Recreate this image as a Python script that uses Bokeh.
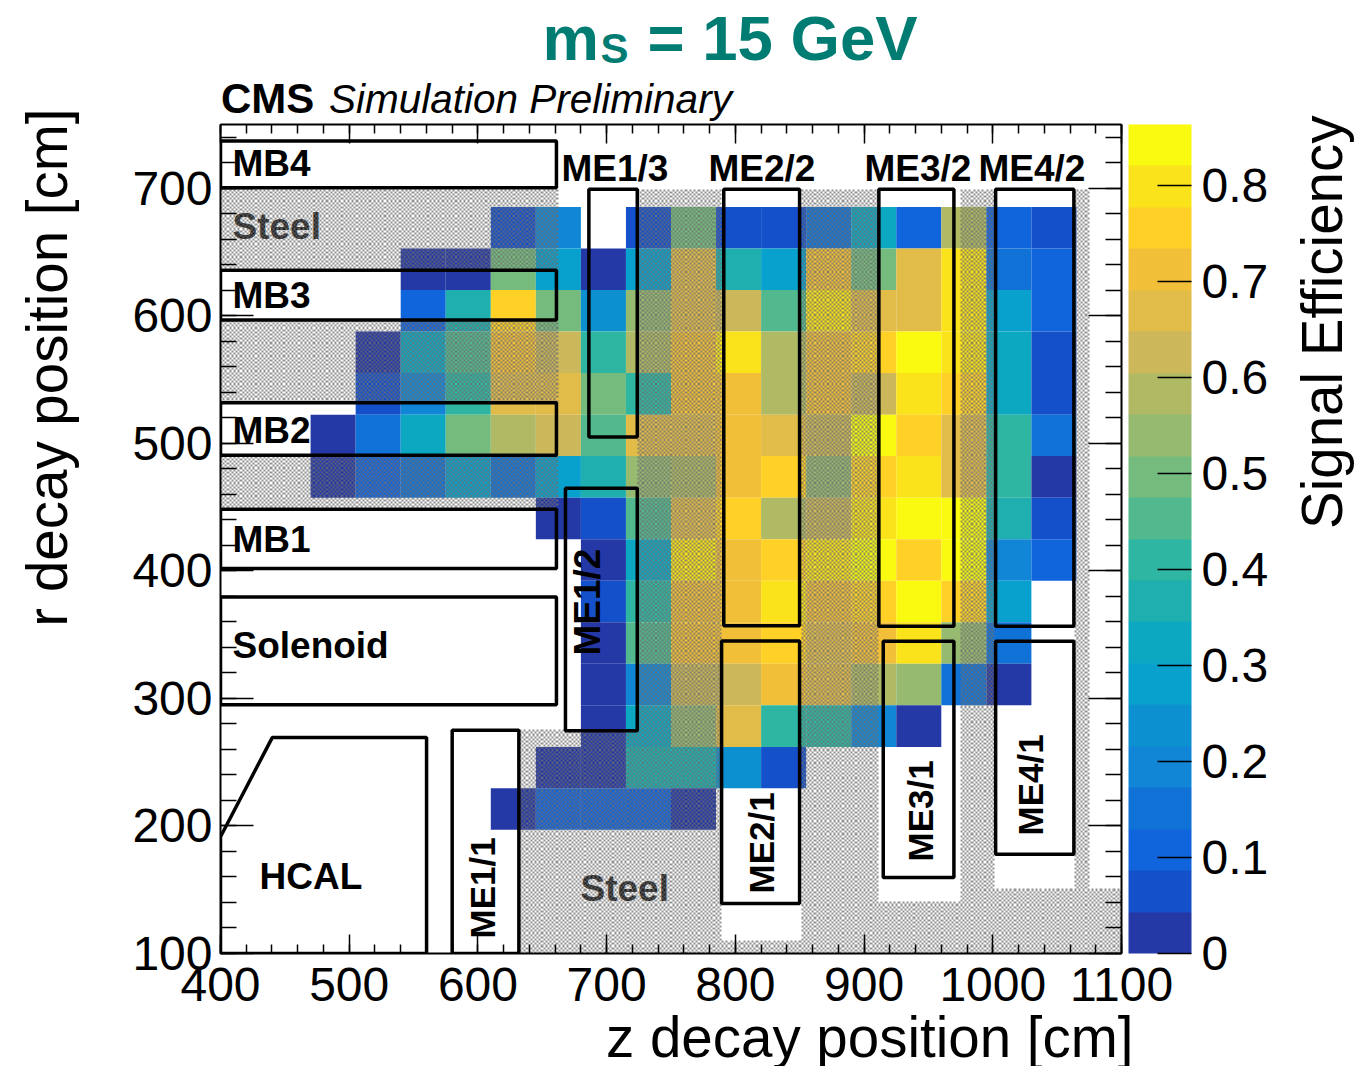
import numpy as np
from bokeh.plotting import figure
from bokeh.core.properties import value
from bokeh.layouts import column, row
from bokeh.models import (ColorBar, FixedTicker, Label, LinearAxis, Title,
                          LinearColorMapper, Range1d, ColumnDataSource)
from bokeh.embed import file_html
from bokeh.resources import INLINE

# ---------- data ----------
palette = ["#2539a6", "#1550cb", "#1064dc", "#1072d6", "#1186d6", "#0d90cf", "#08a0cc", "#0ca8c2",
           "#1eafae", "#2eb6a2", "#52b98f", "#75bb7e", "#96ba70", "#b0b964", "#ccb85a", "#e1bc48",
           "#f2c038", "#ffd127", "#fae31b", "#f9fa10"]
z_edges = [470, 505, 540, 575, 610, 645, 680, 715, 750, 785, 820, 855, 890, 925, 960, 995, 1030, 1065]
r_edges = [685.3, 652.7, 620.2, 587.6, 555.1, 522.5, 490.0, 457.4, 424.9, 392.3, 359.8, 327.2, 294.6, 262.0, 229.5, 197.0]
X = None
# efficiency per cell, top row first (read as palette band centres)
band_grid = [
    [X, X, X, X, 1, 4, X, 1, 11, 1, 1, 3, 7, 2, 13, 2, 1],
    [X, X, 0, 0, 11, 6, 0, 6, 15, 8, 6, 16, 11, 15, 18, 3, 2],
    [X, X, 2, 8, 17, 11, 5, 12, 15, 14, 10, 18, 15, 15, 18, 6, 2],
    [X, 0, 7, 10, 16, 14, 9, 13, 16, 18, 13, 16, 17, 19, 18, 7, 1],
    [X, 1, 4, 9, 15, 15, 11, 9, 16, 16, 13, 16, 14, 18, 17, 7, 1],
    [0, 3, 7, 11, 13, 14, 10, 15, 15, 16, 15, 14, 19, 17, 15, 9, 3],
    [0, 2, 3, 6, 3, 6, 8, 12, 13, 16, 17, 12, 17, 18, 15, 9, 0],
    [X, X, X, X, X, 0, 1, 10, 15, 17, 13, 14, 18, 19, 19, 8, 1],
    [X, X, X, X, X, X, 0, 7, 18, 16, 17, 18, 19, 17, 19, 4, 2],
    [X, X, X, X, X, X, 1, 9, 16, 16, 18, 16, 17, 19, 17, 6, X],
    [X, X, X, X, X, X, 0, 10, 16, 16, 17, 15, 16, 18, 12, 3, X],
    [X, X, X, X, X, X, 0, 4, 14, 14, 16, 15, 13, 12, 3, 0, X],
    [X, X, X, X, X, X, 0, 7, 12, 15, 9, 9, 4, 0, X, X, X],
    [X, X, X, X, X, 0, 0, 8, 8, 5, 1, X, X, X, X, X, X],
    [X, X, X, X, 0, 2, 2, 2, 0, X, X, X, X, X, X, X, X],
]
z_ticks = [400, 500, 600, 700, 800, 900, 1000, 1100]
r_ticks = [100, 200, 300, 400, 500, 600, 700]
eff_ticks = [0, 0.1, 0.2, 0.3, 0.4, 0.5, 0.6, 0.7, 0.8]
eff_max = 0.864
# steel regions: z0, z1, r0, r1
steel_z0 = [400, 400, 400, 724, 632.3, 790, 850.7, 911.3, 975, 1001.4, 1062.8, 1062.8]
steel_z1 = [661.8, 661.8, 661.8, 790, 790, 850.7, 911.3, 975, 1001.4, 1062.8, 1074.4, 1100]
steel_r0 = [636.7, 531.7, 449.1, 275.4, 100, 100, 100, 100, 100, 100, 150, 100]
steel_r1 = [699.4, 596.8, 490.5, 699.4, 275.4, 110, 699.4, 139.7, 699.4, 150, 699.4, 150]
# detector boxes: z0, z1, r0, r1
box_z0 = [400, 400, 400, 400, 400, 580, 668, 686.2, 791, 789.3, 911.5, 914.9, 1002.2, 1002.2]
box_z1 = [661, 661, 661, 661, 661, 631.8, 723.8, 723.8, 849.9, 849.9, 969.8, 969.8, 1063, 1063]
box_r0 = [700.4, 596.8, 490.7, 401.8, 295, 100, 274.6, 505, 356.9, 139.2, 356.6, 159.6, 356.6, 177.9]
box_r1 = [737.1, 635.7, 531.9, 448.4, 379.6, 275.1, 464.8, 699.2, 699.2, 345.1, 699.2, 344.9, 699.2, 344.9]
hcal_z = [400, 440.2, 560.1, 560.1, 400]
hcal_r = [191.5, 269.3, 269.3, 100, 100]

FONT = "Liberation Sans"
TEAL = "#007c73"
W, H = 1357, 1064          # whole page
STRIP_TOP = 122            # text strip above the main figure
STRIP_RIGHT = 72           # text strip right of the main figure
STRIP_LEFT = 85            # text strip left of the main figure
FW, FH = 901, 829
FRAME_LEFT = 220
FRAME_TOP = 124
FRAME_BOTTOM = FRAME_TOP + FH
BL = FRAME_LEFT - STRIP_LEFT
BT = FRAME_TOP - STRIP_TOP
PW, PH = W - STRIP_RIGHT - STRIP_LEFT, H - STRIP_TOP

def pz(px):  # reference page x -> data z
    return 400 + (px - FRAME_LEFT) / (FW / 700)

def pr(py):  # reference page y -> data r
    return 100 + (FRAME_BOTTOM - py) / (FH / 650)

p = figure(width=PW, height=PH, frame_width=FW, frame_height=FH, output_backend="svg", toolbar_location=None,
           x_range=Range1d(400, 1100), y_range=Range1d(100, 750), x_axis_type=None, y_axis_type=None,
           min_border_left=BL, min_border_top=BT, min_border_bottom=PH - BT - FH, min_border_right=PW - BL - FW,
           outline_line_color=None, background_fill_color="white")
p.grid.visible = False

def mk_axis(labels, major, minor_step, rng, major_in, minor_in, standoff=8):
    minors = [rng[0] + i * minor_step for i in range(int((rng[1] - rng[0]) / minor_step) + 1)]
    a = LinearAxis(ticker=FixedTicker(ticks=major, minor_ticks=minors))
    a.axis_line_color = "black"
    a.axis_line_width = 2
    a.major_tick_line_color = "black"
    a.minor_tick_line_color = "black"
    a.major_tick_line_width = 1.5
    a.minor_tick_line_width = 1.5
    a.major_tick_in = major_in
    a.major_tick_out = 0
    a.minor_tick_in = minor_in
    a.minor_tick_out = 0
    if labels:
        a.major_label_text_font = FONT
        a.major_label_text_font_size = "48px"
        a.major_label_text_color = "black"
        a.major_label_standoff = standoff
    else:
        a.major_label_text_font_size = "0px"
        a.major_label_standoff = 0
        a.major_label_text_color = None
    return a

p.add_layout(mk_axis(True, z_ticks, 20, (400, 1100), 19, 9, 14), "below")
p.add_layout(mk_axis(False, z_ticks, 20, (400, 1100), 19, 9), "above")
p.add_layout(mk_axis(True, r_ticks, 20, (100, 750), 33, 16), "left")
p.add_layout(mk_axis(False, r_ticks, 20, (100, 750), 33, 16), "right")

# heat map
left, right, top, bottom, vals = [], [], [], [], []
for i, cells in enumerate(band_grid):
    for j, b in enumerate(cells):
        if b is None:
            continue
        left.append(z_edges[j]); right.append(z_edges[j + 1])
        top.append(r_edges[i]); bottom.append(r_edges[i + 1])
        vals.append((b + 0.5) * eff_max / len(palette))
mapper = LinearColorMapper(palette=palette, low=0, high=eff_max)
p.quad(left="left", right="right", top="top", bottom="bottom",
       source=ColumnDataSource(dict(left=left, right=right, top=top, bottom=bottom, v=vals)),
       fill_color={"field": "v", "transform": mapper}, line_color=None)

# steel texts below the hatching
p.text(x=[pz(232), pz(580)], y=[pr(226), pr(888)], text=["Steel", "Steel"], text_font=value(FONT),
       text_font_style="bold", text_font_size="37px", text_color="#222222",
       text_align="left", text_baseline="middle")

# checker texture of the steel, as an image over the frame
CELL = 2.15
nx, ny = int(FW / CELL), int(FH / CELL)
cz = 400 + (np.arange(nx) + 0.5) * 700 / nx
cr = 100 + (np.arange(ny) + 0.5) * 650 / ny
ZZ, RR = np.meshgrid(cz, cr)
mask = np.zeros(ZZ.shape, dtype=bool)
for a, b, c, d in zip(steel_z0, steel_z1, steel_r0, steel_r1):
    mask |= (ZZ >= a) & (ZZ < b) & (RR >= c) & (RR < d)
ii, jj = np.meshgrid(np.arange(nx), np.arange(ny))
mask &= (ii + jj) % 2 == 0
img = np.zeros((ny, nx, 4), dtype=np.uint8)
img[mask] = (110, 110, 110, 190)
view = img.view(dtype=np.uint32).reshape(ny, nx)
p.image_rgba(image=[view], x=400, y=100, dw=700, dh=650)

# detector outlines
p.quad(left=box_z0, right=box_z1, bottom=box_r0, top=box_r1, fill_alpha=0, line_color="black", line_width=3.5)
p.patch(hcal_z, hcal_r, fill_alpha=0, line_color="black", line_width=3.5)

def lab(px, py, text, size, style="bold", color="black", align="left", base="middle", angle=0):
    p.add_layout(Label(x=px - FRAME_LEFT, y=FRAME_BOTTOM - py, text=text, text_font=FONT, text_font_size=f"{size}px",
                       text_font_style=style, text_color=color, text_align=align, text_baseline=base, angle=angle,
                       x_units="screen", y_units="screen"))

for t, px, py in [("MB4", 232, 163), ("MB3", 232, 295), ("MB2", 232, 430), ("MB1", 232, 539), ("Solenoid", 232, 645),
                  ("HCAL", 259, 876)]:
    lab(px, py, t, 37)
for t, px, py in [("ME1/3", 561, 168), ("ME2/2", 708, 168), ("ME3/2", 864, 168), ("ME4/2", 978, 168)]:
    lab(px, py, t, 37)
for t, px, py, s in [("ME1/1", 482, 938, 35), ("ME1/2", 587, 655, 37), ("ME2/1", 761, 893, 35),
                     ("ME3/1", 920, 861, 35), ("ME4/1", 1030, 835, 35)]:
    lab(px, py, t, s, angle=1.5708, base="middle")

p.add_layout(Title(text="z decay position [cm]", text_font=FONT, text_font_size="56.5px", text_font_style="normal",
                   text_color="black", align="right", standoff=0, offset=-12), "below")

cb = ColorBar(color_mapper=mapper, ticker=FixedTicker(ticks=eff_ticks), width=63, height=FH, padding=0, margin=0,
              major_tick_in=34, major_tick_line_color="black", major_tick_line_width=1.5,
              minor_tick_line_color=None, bar_line_color=None, major_label_text_font=FONT,
              major_label_text_font_size="48px", major_label_text_color="black", label_standoff=10,
              location=(7, 0), major_label_overrides={0: "0"})
p.add_layout(cb, "right")

# text strips around the main figure (page pixels as coordinates)
def strip(width, height, x0, x1):
    s = figure(width=width, height=height, output_backend="svg", toolbar_location=None,
               x_range=Range1d(x0, x1), y_range=Range1d(height, 0), x_axis_type=None, y_axis_type=None,
               min_border=0, min_border_left=0, min_border_right=0, min_border_top=0, min_border_bottom=0,
               outline_line_color=None)
    s.grid.visible = False
    return s

def stxt(s, x, y, t, size, style, color, angle=0, align="left"):
    s.text(x=[x], y=[y], text=[t], text_font=value(FONT), text_font_size=f"{size}px", text_font_style=style,
           text_color=color, text_baseline="middle", text_align=align, angle=angle)

# the strip above shares the frame's horizontal extent inside the column
top_strip = strip(PW, STRIP_TOP, FRAME_LEFT, FRAME_LEFT + FW)
stxt(top_strip, 542, 37, "m", 63.5, "bold", TEAL)
stxt(top_strip, 600, 48, "S", 42, "bold", TEAL)
stxt(top_strip, 647, 37, "= 15 GeV", 63.5, "bold", TEAL)
stxt(top_strip, 220.5, 98, "CMS", 42, "bold", "black")
stxt(top_strip, 328.5, 98, "Simulation Preliminary", 40.5, "italic", "black")

left_strip = strip(STRIP_LEFT, H, 0, STRIP_LEFT)
stxt(left_strip, 47, 108, "r decay position [cm]", 56.5, "normal", "black", angle=1.5708, align="right")

right_strip = strip(STRIP_RIGHT, H, W - STRIP_RIGHT, W)
stxt(right_strip, 1322, 115, "Signal Efficiency", 56.5, "normal", "black", angle=1.5708, align="right")

layout = row(left_strip, column(top_strip, p, spacing=0), right_strip, spacing=0)
open("out.html", "w").write(file_html(layout, INLINE))
